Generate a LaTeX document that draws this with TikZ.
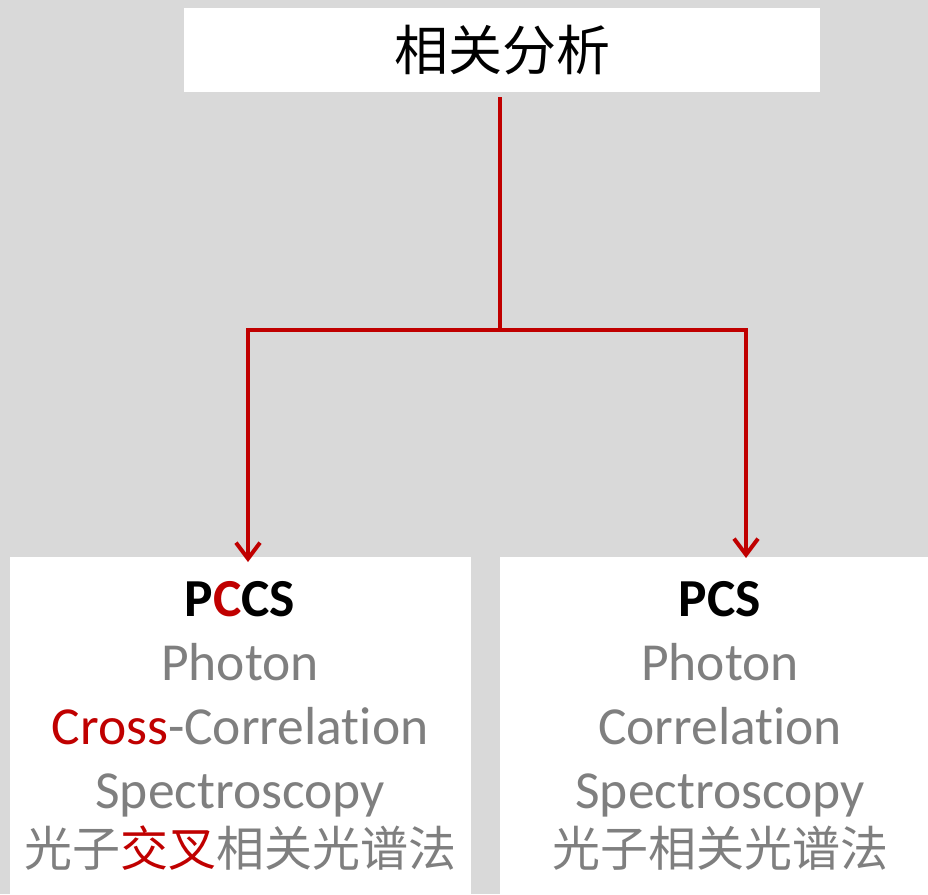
\documentclass[tikz,border=0pt]{standalone}
\usepackage{fontspec}
\setmainfont[Ligatures={NoCommon}]{Carlito}
\newfontfamily\cjk{Noto Sans CJK SC}
\usetikzlibrary{arrows.meta}
\definecolor{bg}{HTML}{D9D9D9}
\definecolor{myred}{HTML}{C00000}
\definecolor{mygray}{HTML}{7F7F7F}
\tikzset{
  panel/.style={fill=white, draw=none, inner sep=0pt, anchor=north west},
  conn/.style={draw=myred, line width=4.5pt, line join=miter, -{Straight Barb[length=16pt,width=24pt,line width=4pt]}},
  plain/.style={draw=myred, line width=4.5pt, line join=miter},
  ln/.style={anchor=base, inner sep=0pt, text=mygray, font=\fontsize{53.5}{62}\selectfont},
  cjkln/.style={anchor=base, inner sep=0pt, text=mygray, font=\cjk\fontsize{48}{58}\selectfont},
  ttl/.style={anchor=base, inner sep=0pt, text=black, font=\bfseries\fontsize{53.5}{62}\selectfont}
}
\begin{document}
\begin{tikzpicture}[x=1pt,y=-1pt]
\fill[bg] (0,0) rectangle (928,894);
\useasboundingbox (0,0) rectangle (928,894);
% boxes
\node[panel, minimum width=636pt, minimum height=84pt] (top) at (184,8) {};
\node[font=\cjk\fontsize{54}{60}\selectfont, inner sep=0pt] (toptxt) at (502,50) {相关分析};
\node[panel, minimum width=461pt, minimum height=340pt] (lbox) at (10,557) {};
\node[panel, minimum width=440pt, minimum height=340pt] (rbox) at (500,557) {};
% connectors
\coordinate (start) at (500,97);
\coordinate (split) at (500,330);
\coordinate (la) at (248,562);
\coordinate (ra) at (746,558);
\draw[plain] (start) -- (split);
\draw[conn] (split) -| (la);
\draw[conn] (split) -| (ra);
% left text
\node[ttl] (l1) at (240,616) {P\textcolor{myred}{C}CS};
\node[ln] (l2) at (240,680) {Photon};
\node[ln] (l3) at (240,744) {\textcolor{myred}{Cross}-Correlation};
\node[ln] (l4) at (240,808) {Spectroscopy};
\node[cjkln] (l5) at (240,866) {光子\textcolor{myred}{交叉}相关光谱法};
% right text
\node[ttl] (r1) at (720,616) {PCS};
\node[ln] (r2) at (720,680) {Photon};
\node[ln] (r3) at (720,744) {Correlation};
\node[ln] (r4) at (720,808) {Spectroscopy};
\node[cjkln] (r5) at (720,866) {光子相关光谱法};
\end{tikzpicture}
\end{document}
